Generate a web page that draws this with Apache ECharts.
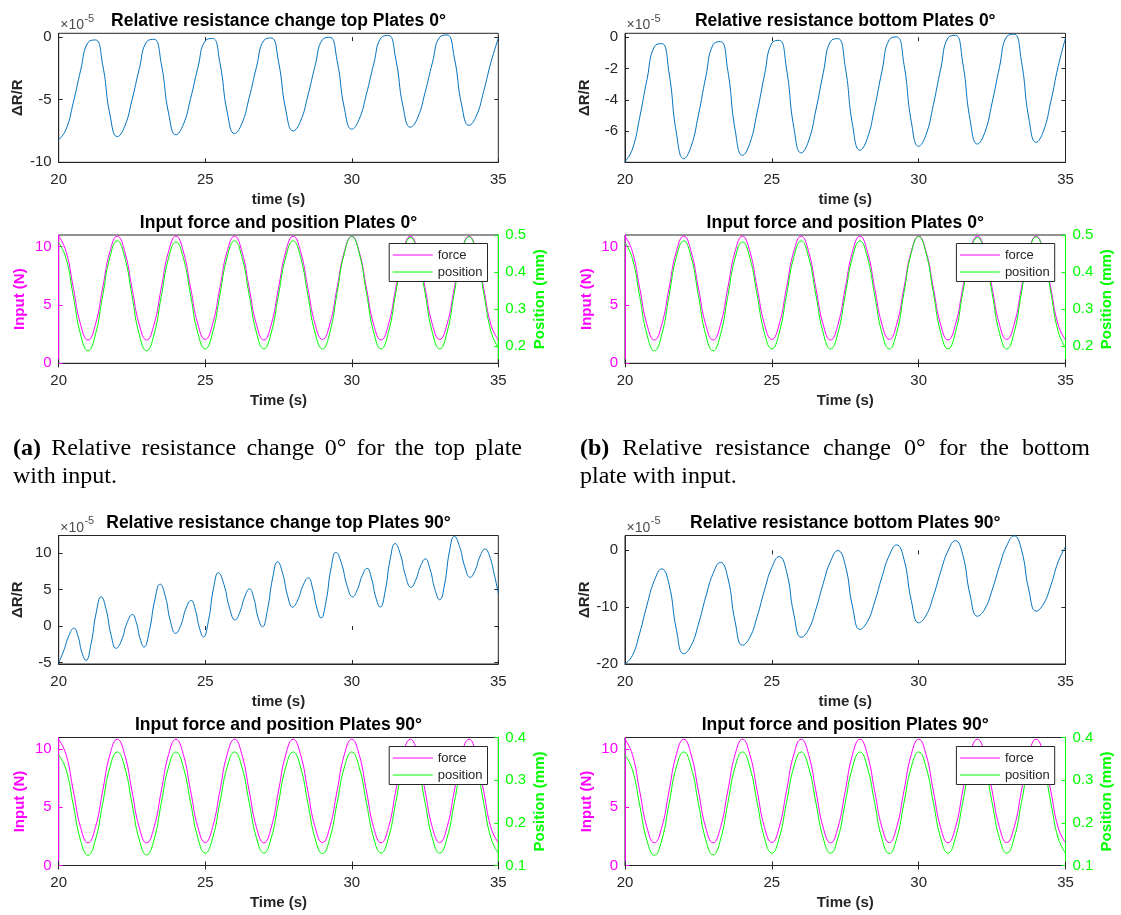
<!DOCTYPE html>
<html>
<head>
<meta charset="utf-8">
<script src="https://cdn.jsdelivr.net/npm/echarts@6/dist/echarts.min.js"></script>
<style>
  html, body { margin: 0; padding: 0; background: #ffffff; }
  #chart { width: 1121px; height: 915px; }
</style>
</head>
<body>
<div id="chart"></div>
<script>
// Sample times (s)
const timeS = [
  20, 20.25, 20.5, 20.75, 21, 21.25, 21.5, 21.75,
  22, 22.25, 22.5, 22.75, 23, 23.25, 23.5, 23.75,
  24, 24.25, 24.5, 24.75, 25, 25.25, 25.5, 25.75,
  26, 26.25, 26.5, 26.75, 27, 27.25, 27.5, 27.75,
  28, 28.25, 28.5, 28.75, 29, 29.25, 29.5, 29.75,
  30, 30.25, 30.5, 30.75, 31, 31.25, 31.5, 31.75,
  32, 32.25, 32.5, 32.75, 33, 33.25, 33.5, 33.75,
  34, 34.25, 34.5, 34.75, 35
];

// Relative resistance change, in units of 1e-5
const resTop0 = [
  -8.2, -7.37, -5.21, -2.64, -0.44, -0.23, -2.21, -6.22,
  -7.95, -7.14, -5.04, -2.53, -0.38, -0.18, -2.13, -6.09,
  -7.8, -7.0, -4.92, -2.43, -0.3, -0.11, -2.05, -6.0,
  -7.7, -6.91, -4.84, -2.38, -0.27, -0.07, -1.97, -5.83,
  -7.5, -6.72, -4.7, -2.28, -0.21, -0.02, -1.89, -5.71,
  -7.36, -6.58, -4.56, -2.14, -0.06, 0.13, -1.74, -5.56,
  -7.2, -6.43, -4.44, -2.06, -0.01, 0.17, -1.66, -5.43,
  -7.05, -6.3, -4.34, -2.01, -0.1
];
const resBottom0 = [
  -7.95, -7.17, -5.13, -2.69, -0.6, -0.41, -2.29, -6.12,
  -7.77, -6.99, -4.97, -2.55, -0.47, -0.28, -2.13, -5.92,
  -7.55, -6.79, -4.8, -2.42, -0.38, -0.2, -2.03, -5.79,
  -7.4, -6.64, -4.66, -2.3, -0.26, -0.09, -1.9, -5.63,
  -7.23, -6.48, -4.51, -2.17, -0.15, 0.02, -1.74, -5.41,
  -6.98, -6.24, -4.32, -2.03, -0.04, 0.12, -1.63, -5.27,
  -6.83, -6.1, -4.2, -1.93, 0.04, 0.19, -1.55, -5.17,
  -6.72, -6.0, -4.12, -1.87, -0.05
];
// top plate at 90° is read at its turning points and between them
const resTop90Time = [
  20, 20.17, 20.35, 20.52, 20.66, 20.79, 20.93, 21.1, 21.28, 21.45,
  21.62, 21.79, 21.96, 22.15, 22.33, 22.52, 22.65, 22.78, 22.91, 23.09,
  23.28, 23.46, 23.64, 23.81, 23.99, 24.17, 24.34, 24.52, 24.66, 24.8,
  24.94, 25.11, 25.28, 25.45, 25.64, 25.83, 26.02, 26.18, 26.35, 26.51,
  26.66, 26.8, 26.95, 27.12, 27.3, 27.47, 27.64, 27.81, 27.98, 28.16,
  28.34, 28.52, 28.66, 28.81, 28.95, 29.12, 29.29, 29.46, 29.65, 29.84,
  30.03, 30.19, 30.36, 30.52, 30.67, 30.82, 30.97, 31.14, 31.31, 31.48,
  31.66, 31.84, 32.02, 32.18, 32.35, 32.51, 32.67, 32.84, 33, 33.17,
  33.33, 33.5, 33.68, 33.86, 34.04, 34.21, 34.38, 34.55, 34.7, 34.85, 35
];
const resTop90 = [
  -5.0, -3.4, -1.3, -0.3, -1.4, -3.6, -4.7, -2.53, 1.83, 4.0,
  2.24, -1.29, -3.05, -1.9, 0.42, 1.57, 0.46, -1.76, -2.87, -0.72,
  3.59, 5.74, 4.06, 0.69, -1.0, 0.13, 2.38, 3.5, 2.26, -0.24,
  -1.48, 0.72, 5.11, 7.3, 5.68, 2.45, 0.83, 1.9, 4.03, 5.1,
  3.8, 1.2, -0.1, 2.13, 6.58, 8.8, 7.25, 4.15, 2.6, 3.6,
  5.6, 6.6, 5.23, 2.48, 1.1, 3.35, 7.85, 10.1, 8.58, 5.53,
  4.0, 4.98, 6.93, 7.9, 6.58, 3.93, 2.6, 4.78, 9.13, 11.3,
  9.8, 6.8, 5.3, 6.28, 8.23, 9.2, 7.8, 5.0, 3.6, 5.78,
  10.13, 12.3, 10.89, 8.08, 6.67, 7.64, 9.58, 10.55, 9.6, 7.3, 4.5
];
const resBottom90 = [
  -20, -18.52, -14.59, -9.6, -5.32, -3.27, -6.02, -13.95,
  -18.2, -16.78, -13.0, -8.2, -4.08, -2.11, -4.8, -12.55,
  -16.7, -15.32, -11.66, -7.01, -3.02, -1.11, -3.73, -11.27,
  -15.3, -13.95, -10.37, -5.83, -1.93, -0.06, -2.61, -9.97,
  -13.9, -12.59, -9.1, -4.68, -0.88, 0.94, -1.58, -8.86,
  -12.75, -11.47, -8.08, -3.77, -0.08, 1.69, -0.76, -7.82,
  -11.6, -10.35, -7.03, -2.81, 0.81, 2.54, 0.1, -6.94,
  -10.7, -9.45, -6.2, -2.03, 0.6
];

// Input force (N) and actuator position (mm)
const force0 = [
  10.9, 9.6, 6.45, 3.3, 2.0, 3.3, 6.45, 9.6,
  10.9, 9.6, 6.45, 3.3, 2.0, 3.3, 6.45, 9.6,
  10.9, 9.61, 6.48, 3.34, 2.05, 3.34, 6.48, 9.61,
  10.9, 9.6, 6.45, 3.3, 2.0, 3.3, 6.45, 9.6,
  10.9, 9.61, 6.48, 3.34, 2.05, 3.34, 6.48, 9.61,
  10.9, 9.6, 6.45, 3.3, 2.0, 3.3, 6.45, 9.6,
  10.9, 9.61, 6.48, 3.34, 2.05, 3.34, 6.48, 9.61,
  10.9, 9.6, 6.45, 3.3, 2.0
];
const position0 = [
  0.48, 0.437, 0.334, 0.23, 0.187, 0.23, 0.336, 0.441,
  0.484, 0.441, 0.336, 0.23, 0.187, 0.23, 0.334, 0.438,
  0.481, 0.439, 0.337, 0.234, 0.192, 0.235, 0.338, 0.441,
  0.484, 0.441, 0.338, 0.235, 0.192, 0.235, 0.338, 0.441,
  0.484, 0.441, 0.338, 0.235, 0.192, 0.236, 0.344, 0.452,
  0.496, 0.452, 0.344, 0.236, 0.192, 0.236, 0.343, 0.449,
  0.493, 0.449, 0.343, 0.236, 0.192, 0.236, 0.344, 0.451,
  0.495, 0.451, 0.345, 0.239, 0.195
];
const force90 = [
  10.85, 9.55, 6.4, 3.25, 1.95, 3.25, 6.4, 9.55,
  10.85, 9.55, 6.4, 3.25, 1.95, 3.25, 6.4, 9.55,
  10.85, 9.56, 6.42, 3.28, 1.98, 3.28, 6.42, 9.56,
  10.85, 9.55, 6.4, 3.25, 1.95, 3.25, 6.4, 9.55,
  10.85, 9.56, 6.42, 3.28, 1.98, 3.28, 6.42, 9.56,
  10.85, 9.55, 6.4, 3.25, 1.95, 3.25, 6.4, 9.55,
  10.85, 9.56, 6.42, 3.28, 1.98, 3.28, 6.42, 9.56,
  10.85, 9.55, 6.4, 3.25, 1.95
];
const position90 = [
  0.359, 0.325, 0.2415, 0.158, 0.124, 0.159, 0.245, 0.331,
  0.366, 0.331, 0.2455, 0.16, 0.125, 0.16, 0.2455, 0.331,
  0.366, 0.331, 0.2475, 0.164, 0.129, 0.164, 0.2475, 0.331,
  0.366, 0.331, 0.2475, 0.164, 0.129, 0.164, 0.2475, 0.331,
  0.366, 0.331, 0.247, 0.163, 0.128, 0.163, 0.247, 0.331,
  0.366, 0.331, 0.2475, 0.164, 0.129, 0.164, 0.2475, 0.331,
  0.366, 0.331, 0.2475, 0.164, 0.129, 0.164, 0.2475, 0.331,
  0.366, 0.331, 0.2475, 0.164, 0.129
];

// Tick labels
const timeTicks = [20, 25, 30, 35];
const resTop0Ticks = [-10, -5, 0];
const resBottom0Ticks = [-6, -4, -2, 0];
const resTop90Ticks = [-5, 0, 5, 10];
const resBottom90Ticks = [-20, -10, 0];
const forceTicks = [0, 5, 10];
const position0Ticks = [0.2, 0.3, 0.4, 0.5];
const position90Ticks = [0.1, 0.2, 0.3, 0.4];

// Captions
const captionA = ['(a)', 'Relative', 'resistance', 'change', '0°', 'for', 'the', 'top', 'plate'];
const captionA2 = 'with input.';
const captionB = ['(b)', 'Relative', 'resistance', 'change', '0°', 'for', 'the', 'bottom'];
const captionB2 = 'plate with input.';

// ---- styling ----
const SANS = '"Liberation Sans", Arial, Helvetica, sans-serif';
const SERIF = '"Liberation Serif", "Times New Roman", serif';
const AX = '#262626';
const BLUE = '#0072BD';
const MAG = '#FF00FF';
const GRN = '#00FF00';
const TICK_FS = 15;
const LABEL_FS = 15;
const TITLE_FS = 17.5;

// plot boxes (px)
const COLS = [[58.7, 498.3], [625, 1065.5]];
const ROWS = { r0: [33.3, 162.3], i0: [235, 363.3], r90: [535.5, 664], i90: [737.5, 865.5] };
const TITLE_Y = { r0: 20.7, i0: 222.8, r90: 523.5, i90: 725 };

const panels = [
  { kind: 'res', col: 0, row: 'r0', title: 'Relative resistance change top Plates 0°', time: timeS, values: resTop0, min: -10, max: 0.3, ticks: resTop0Ticks },
  { kind: 'res', col: 1, row: 'r0', title: 'Relative resistance bottom Plates 0°', time: timeS, values: resBottom0, min: -8, max: 0.25, ticks: resBottom0Ticks },
  { kind: 'in', col: 0, row: 'i0', title: 'Input force and position Plates 0°', force: force0, pos: position0, posMin: 0.153, posMax: 0.5, posTicks: position0Ticks },
  { kind: 'in', col: 1, row: 'i0', title: 'Input force and position Plates 0°', force: force0, pos: position0, posMin: 0.153, posMax: 0.5, posTicks: position0Ticks },
  { kind: 'res', col: 0, row: 'r90', title: 'Relative resistance change top Plates 90°', time: resTop90Time, values: resTop90, min: -5.2, max: 12.4, ticks: resTop90Ticks },
  { kind: 'res', col: 1, row: 'r90', title: 'Relative resistance bottom Plates 90°', time: timeS, values: resBottom90, min: -20, max: 2.6, ticks: resBottom90Ticks },
  { kind: 'in', col: 0, row: 'i90', title: 'Input force and position Plates 90°', force: force90, pos: position90, posMin: 0.1, posMax: 0.4, posTicks: position90Ticks },
  { kind: 'in', col: 1, row: 'i90', title: 'Input force and position Plates 90°', force: force90, pos: position90, posMin: 0.1, posMax: 0.4, posTicks: position90Ticks }
];

const pairs = (t, v) => t.map((ti, i) => [ti, v[i]]);

function textEl(text, x, y, opts) {
  const o = opts || {};
  const align = o.align || 'left';
  return {
    type: 'text', x: x, y: y, silent: true,
    style: {
      text: text,
      fill: o.color || AX,
      fontSize: o.size || 15,
      fontWeight: o.weight || 'normal',
      fontFamily: o.family || SANS,
      align: align, verticalAlign: 'middle',
      textAlign: align, textVerticalAlign: 'middle'
    }
  };
}

const measureCtx = document.createElement('canvas').getContext('2d');
function measure(text, size, weight, family) {
  measureCtx.font = `${weight} ${size}px ${family}`;
  return measureCtx.measureText(text).width;
}

const grid = [], xAxis = [], yAxis = [], series = [], legend = [], elements = [];

panels.forEach((p, gi) => {
  const [x0, x1] = COLS[p.col];
  const [y0, y1] = ROWS[p.row];
  grid.push({
    left: x0, top: y0, width: x1 - x0, height: y1 - y0,
    show: true, borderColor: AX, borderWidth: 1, backgroundColor: 'transparent',
    containLabel: false, outerBoundsMode: 'none'
  });

  const xb = xAxis.length;
  xAxis.push({
    type: 'value', gridIndex: gi, position: 'bottom', min: 20, max: 35, interval: 5,
    axisLine: { show: true, onZero: false, lineStyle: { color: AX, width: 1 } },
    axisTick: { show: true, inside: true, length: 4, customValues: timeTicks, lineStyle: { color: AX } },
    axisLabel: { show: true, customValues: timeTicks, color: AX, fontSize: TICK_FS, fontFamily: SANS, margin: 10 },
    splitLine: { show: false },
    name: p.kind === 'res' ? 'time (s)' : 'Time (s)',
    nameLocation: 'middle', nameGap: 30,
    nameTextStyle: { color: AX, fontSize: LABEL_FS, fontWeight: 'bold', fontFamily: SANS }
  });
  xAxis.push({
    type: 'value', gridIndex: gi, position: 'top', min: 20, max: 35, interval: 5,
    axisLine: { show: false },
    axisTick: { show: true, inside: true, length: 4, customValues: timeTicks, lineStyle: { color: AX } },
    axisLabel: { show: false },
    splitLine: { show: false }
  });

  elements.push(textEl(p.title, (x0 + x1) / 2, TITLE_Y[p.row],
    { align: 'center', size: TITLE_FS, weight: 'bold', color: '#000000' }));

  if (p.kind === 'res') {
    const yl = yAxis.length;
    yAxis.push({
      type: 'value', gridIndex: gi, position: 'left', min: p.min, max: p.max,
      axisLine: { show: true, onZero: false, lineStyle: { color: AX, width: 1 } },
      axisTick: { show: true, inside: true, length: 4, customValues: p.ticks, lineStyle: { color: AX } },
      axisLabel: { show: true, customValues: p.ticks, color: AX, fontSize: TICK_FS, fontFamily: SANS, margin: 7 },
      splitLine: { show: false },
      name: 'ΔR/R', nameLocation: 'middle', nameGap: 33,
      nameTextStyle: { color: AX, fontSize: LABEL_FS, fontWeight: 'bold', fontFamily: SANS }
    });
    yAxis.push({
      type: 'value', gridIndex: gi, position: 'right', min: p.min, max: p.max,
      axisLine: { show: false },
      axisTick: { show: true, inside: true, length: 4, customValues: p.ticks, lineStyle: { color: AX } },
      axisLabel: { show: false },
      splitLine: { show: false }
    });
    series.push({
      type: 'line', name: 'dR/R#' + gi, xAxisIndex: xb, yAxisIndex: yl,
      data: pairs(p.time, p.values), symbol: 'none', smooth: 0.5,
      lineStyle: { color: BLUE, width: 1 }, itemStyle: { color: BLUE },
      emphasis: { disabled: true }, silent: true, clip: true
    });
    // axis exponent marker
    const ex = x0 + 1.5, ey = y0 - 7.8;
    const w = measure('×10', 14, 'normal', SANS);
    elements.push(textEl('×10', ex, ey, { size: 14, color: '#4d4d4d' }));
    elements.push(textEl('-5', ex + w + 0.5, ey - 7, { size: 11, color: '#4d4d4d' }));
  } else {
    const yl = yAxis.length;
    yAxis.push({
      type: 'value', gridIndex: gi, position: 'left', min: 0, max: 11,
      axisLine: { show: true, onZero: false, lineStyle: { color: MAG, width: 1 } },
      axisTick: { show: true, inside: true, length: 4, customValues: forceTicks, lineStyle: { color: MAG } },
      axisLabel: { show: true, customValues: forceTicks, color: MAG, fontSize: TICK_FS, fontFamily: SANS, margin: 7 },
      splitLine: { show: false },
      name: 'Input (N)', nameLocation: 'middle', nameGap: 31,
      nameTextStyle: { color: MAG, fontSize: LABEL_FS, fontWeight: 'bold', fontFamily: SANS }
    });
    yAxis.push({
      type: 'value', gridIndex: gi, position: 'right', min: p.posMin, max: p.posMax,
      axisLine: { show: true, onZero: false, lineStyle: { color: GRN, width: 1 } },
      axisTick: { show: true, inside: true, length: 4, customValues: p.posTicks, lineStyle: { color: GRN } },
      axisLabel: { show: true, customValues: p.posTicks, color: GRN, fontSize: TICK_FS, fontFamily: SANS, margin: 7 },
      splitLine: { show: false },
      name: 'Position (mm)', nameLocation: 'middle', nameGap: 34,
      nameTextStyle: { color: GRN, fontSize: LABEL_FS, fontWeight: 'bold', fontFamily: SANS }
    });
    const fName = 'force#' + gi, pName = 'position#' + gi;
    series.push({
      type: 'line', name: fName, xAxisIndex: xb, yAxisIndex: yl,
      data: pairs(timeS, p.force), symbol: 'none', smooth: 0.5,
      lineStyle: { color: MAG, width: 1 }, itemStyle: { color: MAG },
      emphasis: { disabled: true }, silent: true, clip: true
    });
    series.push({
      type: 'line', name: pName, xAxisIndex: xb, yAxisIndex: yl + 1,
      data: pairs(timeS, p.pos), symbol: 'none', smooth: 0.5,
      lineStyle: { color: GRN, width: 1 }, itemStyle: { color: GRN },
      emphasis: { disabled: true }, silent: true, clip: true
    });
    // each plot has its own legend box (kept on half-pixel rows so 1px lines stay crisp);
    // the marker dot is hidden so only the line shows
    legend.push({
      orient: 'vertical', right: 1121 - (x1 - 10.8), top: Math.floor(y0 + 8.5) + 0.5,
      data: [
        { name: fName, itemStyle: { opacity: 0 }, lineStyle: { color: MAG, width: 1, opacity: 1 } },
        { name: pName, itemStyle: { opacity: 0 }, lineStyle: { color: GRN, width: 1, opacity: 1 } }
      ],
      formatter: name => name.split('#')[0],
      selectedMode: false,
      itemWidth: 40, itemHeight: 12, itemGap: 4,
      itemStyle: { opacity: 0 },
      lineStyle: { width: 1, opacity: 1 },
      padding: [5, 5, 3, 3],
      backgroundColor: '#ffffff', borderColor: AX, borderWidth: 1, borderRadius: 0,
      textStyle: { color: AX, fontSize: 13, fontFamily: SANS }
    });
  }
});

// justified caption lines
const CAP_FS = 24;
function captionLine(words, xStart, xEnd, y) {
  const widths = words.map((w, i) => measure(w, CAP_FS, i === 0 ? 'bold' : 'normal', SERIF));
  const total = widths.reduce((a, b) => a + b, 0);
  const gap = (xEnd - xStart - total) / (words.length - 1);
  let x = xStart;
  words.forEach((w, i) => {
    elements.push(textEl(w, x, y, { size: CAP_FS, weight: i === 0 ? 'bold' : 'normal', family: SERIF, color: '#000000' }));
    x += widths[i] + gap;
  });
}
captionLine(captionA, 13, 522, 449);
elements.push(textEl(captionA2, 13, 477, { size: CAP_FS, family: SERIF, color: '#000000' }));
captionLine(captionB, 580, 1090, 449);
elements.push(textEl(captionB2, 580, 477, { size: CAP_FS, family: SERIF, color: '#000000' }));

const chart = echarts.init(document.getElementById('chart'), null, { renderer: 'canvas', width: 1121, height: 915 });
chart.setOption({
  animation: false,
  backgroundColor: '#ffffff',
  grid: grid,
  xAxis: xAxis,
  yAxis: yAxis,
  series: series,
  legend: legend,
  graphic: { elements: elements }
});
</script>
</body>
</html>
